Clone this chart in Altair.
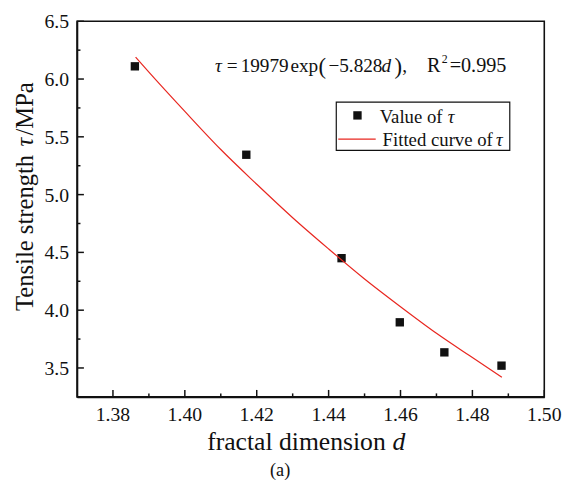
import altair as alt
import pandas as pd

# ---- data ----
d_vals = [1.3861, 1.4171, 1.4436, 1.4598, 1.4722, 1.4881]
tau_vals = [6.11, 5.345, 4.45, 3.895, 3.635, 3.52]

fit_d = [1.3863, 1.39, 1.40, 1.41, 1.42, 1.43, 1.44, 1.45, 1.46, 1.47, 1.48, 1.4882]
fit_tau = [6.19, 6.06, 5.72, 5.39, 5.09, 4.80, 4.53, 4.27, 4.03, 3.80, 3.59, 3.42]

x_major = [1.38, 1.40, 1.42, 1.44, 1.46, 1.48, 1.50]
x_labels = ["1.38", "1.40", "1.42", "1.44", "1.46", "1.48", "1.50"]
x_minor = [1.39, 1.41, 1.43, 1.45, 1.47, 1.49]
y_major = [3.5, 4.0, 4.5, 5.0, 5.5, 6.0, 6.5]
y_labels = ["3.5", "4.0", "4.5", "5.0", "5.5", "6.0", "6.5"]
y_minor = [3.25, 3.75, 4.25, 4.75, 5.25, 5.75, 6.25]

W, H = 474, 381
FONT = "Liberation Serif"
INK = "#111"
RED = "#e8261f"
X_DOM = [1.37, 1.50]
Y_DOM = [3.25, 6.5]

xs = alt.Scale(domain=X_DOM, nice=False, zero=False)
ys = alt.Scale(domain=Y_DOM, nice=False, zero=False)

pts = pd.DataFrame({"d": d_vals, "tau": tau_vals})
fit = pd.DataFrame({"d": fit_d, "tau": fit_tau})

x_axis = alt.Axis(values=x_major, ticks=False, grid=False, title=None, labels=False)
y_axis = alt.Axis(values=y_major, ticks=False, grid=False, title=None, labels=False)

base_pts = alt.Chart(pts).mark_square(size=72, color=INK, opacity=1).encode(
    x=alt.X("d:Q", scale=xs, axis=x_axis),
    y=alt.Y("tau:Q", scale=ys, axis=y_axis),
)

curve = alt.Chart(fit).mark_line(color=RED, strokeWidth=1.2, interpolate="monotone").encode(
    x=alt.X("d:Q", scale=xs), y=alt.Y("tau:Q", scale=ys)
)

# inward ticks
def xticks(vals, length):
    return alt.Chart(pd.DataFrame({"v": vals})).mark_rule(color=INK, strokeWidth=1.5).encode(
        x=alt.X("v:Q", scale=xs), y=alt.value(H), y2=alt.value(H - length))

def yticks(vals, length):
    return alt.Chart(pd.DataFrame({"v": vals})).mark_rule(color=INK, strokeWidth=1.5).encode(
        y=alt.Y("v:Q", scale=ys), x=alt.value(0), x2=alt.value(length))

# tick labels (serif)
x_tick_labels = alt.Chart(pd.DataFrame({"v": x_major, "t": x_labels})).mark_text(
    font=FONT, fontSize=20, color=INK, align="center", baseline="alphabetic").encode(
    x=alt.X("v:Q", scale=xs), y=alt.value(H + 24), text="t:N")
y_tick_labels = alt.Chart(pd.DataFrame({"v": y_major, "t": y_labels})).mark_text(
    font=FONT, fontSize=20, color=INK, align="right", baseline="middle", dy=1).encode(
    y=alt.Y("v:Q", scale=ys), x=alt.value(-8), text="t:N")

one = pd.DataFrame({"a": [0]})

def txt(s, x, y, size=19.5, style="normal", align="left", angle=0):
    return alt.Chart(one).mark_text(text=s, font=FONT, fontSize=size, fontStyle=style,
                                    align=align, baseline="alphabetic", color=INK,
                                    angle=angle).encode(
        x=alt.value(x), y=alt.value(y))

EQ_Y = 51
equation = [
    txt("τ", 140, EQ_Y, style="italic"),
    txt("=", 152, EQ_Y),
    txt("19979", 166, EQ_Y),
    txt("exp", 216.5, EQ_Y),
    txt("(", 245, EQ_Y + 2, size=23),
    txt("−5.828", 255, EQ_Y),
    txt("d", 309, EQ_Y, style="italic"),
    txt(")", 322, EQ_Y + 2, size=23),
    txt(",", 330, EQ_Y),
    txt("R", 355, EQ_Y, size=20.5),
    txt("2", 370, EQ_Y - 9, size=12),
    txt("=0.995", 378, EQ_Y, size=20.5),
]

# legend
legend_box = alt.Chart(one).mark_rect(fill="white", stroke=INK, strokeWidth=1.2).encode(
    x=alt.value(263), x2=alt.value(439), y=alt.value(82), y2=alt.value(131))
legend_sq = alt.Chart(one).mark_square(size=72, color=INK, opacity=1).encode(
    x=alt.value(284.5), y=alt.value(95.5))
legend_line = alt.Chart(one).mark_rule(color=RED, strokeWidth=1.2).encode(
    x=alt.value(265), x2=alt.value(303), y=alt.value(119.5))
legend_txt = [
    txt("Value of", 307, 103, size=19),
    txt("τ", 376, 103, size=19, style="italic"),
    txt("Fitted curve of", 310, 127, size=19),
    txt("τ", 425, 127, size=19, style="italic"),
]

# axis titles (with italic symbols)
titles = [
    txt("fractal dimension", 132, 435, size=26),
    txt("d", 320, 435, size=26, style="italic"),
    txt("Tensile strength", -45, 294, size=25, angle=270),
    txt("τ", -45, 127, size=25, style="italic", angle=270),
    txt("/MPa", -45, 116, size=25, angle=270),
]

caption = txt("(a)", 206, 461, size=18.5, align="center")

chart = alt.layer(
    base_pts, curve,
    xticks(x_major, 7), xticks(x_minor, 3.5),
    yticks(y_major, 7), yticks(y_minor, 3.5),
    x_tick_labels, y_tick_labels,
    *equation, legend_box, legend_sq, legend_line, *legend_txt, *titles, caption,
).properties(
    width=W, height=H,
    autosize=alt.AutoSizeParams(type="none"),
    padding={"left": 70, "top": 10, "right": 20, "bottom": 88},
).configure_view(
    stroke=INK, strokeWidth=1.6
).configure_axis(
    domainColor=INK, domainWidth=1.6, grid=False, ticks=False,
)

chart.save("out.html", embed_options={"renderer": "svg", "actions": False})
